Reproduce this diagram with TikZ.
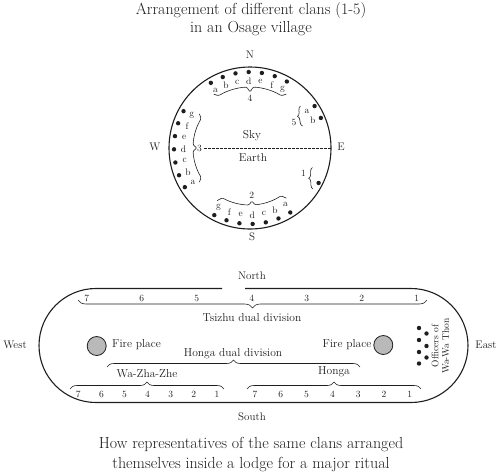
\documentclass[tikz,border=0pt]{standalone}
\usetikzlibrary{calc,decorations.pathreplacing}
\newcommand\cbr[5]{%
 \pgfmathsetmacro\cbma{(#1+#2)/2}%
 \pgfmathsetmacro\cbsa{#1+3}%
 \pgfmathsetmacro\cbmb{\cbma-3}%
 \pgfmathsetmacro\cbmc{\cbma+3}%
 \pgfmathsetmacro\cbeb{#2-3}%
 \pgfmathsetmacro\cbro{#3+#5}%
 \pgfmathsetmacro\cbri{#3-#4}%
 \draw[thinline, rounded corners=1.2pt] ($(C)+(#1:\cbro)$) -- ($(C)+(\cbsa:#3)$) arc[start angle=\cbsa, end angle=\cbmb, radius=#3] -- ($(C)+(\cbma:\cbri)$) -- ($(C)+(\cbmc:#3)$) arc[start angle=\cbmc, end angle=\cbeb, radius=#3] -- ($(C)+(#2:\cbro)$);}
\definecolor{ink}{HTML}{1E1E1E}
\tikzset{
 lbl/.style={inner sep=0pt, text=ink, font=\fontsize{11}{12}\selectfont},
 mid/.style={inner sep=0pt, text=ink, font=\fontsize{11.5}{13}\selectfont},
 ltr/.style={inner sep=0pt, text=ink, font=\fontsize{9.5}{10}\selectfont},
 num/.style={inner sep=0pt, text=ink, font=\fontsize{9.5}{10}\selectfont},
 big/.style={inner sep=0pt, text=ink, font=\fontsize{16}{18}\selectfont},
 dot/.style={circle, fill=ink, inner sep=0pt, minimum size=4.4pt},
 thinline/.style={draw=ink, line width=0.6pt},
 frame/.style={draw=ink, line width=1.1pt},
 brc/.style={decorate, decoration={brace, amplitude=#1}, draw=ink, line width=0.6pt},
 fire/.style={circle, draw=ink, fill=gray!55, line width=0.8pt, minimum size=19pt, inner sep=0pt},
}
\begin{document}
\begin{tikzpicture}[x=1pt,y=-1pt]
\useasboundingbox (0,0) rectangle (501,475);
% ---------- title
\node[big] (t1) at (251,11) {Arrangement of different clans (1-5)};
\node[big] (t2) at (251,29) {in an Osage village};
% ---------- village circle
\coordinate (C) at (250,148);
\node[circle, frame, minimum size=162pt, inner sep=0pt] (village) at (C) {};
\node[lbl] (N) at (250,55) {N};
\node[lbl] (S) at (252,237) {S};
\node[lbl] (W) at (155,147) {W};
\node[lbl] (E) at (341,147) {E};
\node[mid] (sky) at (252,136) {Sky};
\node[mid] (earth) at (253,158) {Earth};
\coordinate (dashL) at (204,148);
\draw[thinline, dash pattern=on 2.5pt off 1.5pt] (dashL) -- (village.east);
% north group (4)
\foreach \a [count=\k] in {-121,-111,...,-61} \node[dot] (n\k) at ($(C)+(\a:76)$) {};
\foreach \a/\l in {-121/a,-111/b,-101/c,-91/d,-81/e,-71/f,-61/g} \node[ltr] (nl\l) at ($(C)+(\a:67)$) {\l};
\cbr{-124}{-56}{61}{5}{4}
\node[num] (four) at ($(C)+(-90:50)$) {4};
% west group (3)
\foreach \a [count=\k] in {-151,-161,...,-211} \node[dot] (w\k) at ($(C)+(\a:76)$) {};
\foreach \a/\l in {-151/g,-161/f,-171/e,-181/d,-191/c,-201/b,-211/a} \node[ltr] (wl\l) at ($(C)+(\a:66.5)$) {\l};
\cbr{-214}{-146}{57}{4}{4}
\node[num] (three) at ($(C)+(-180:50.5)$) {3};
% south group (2)
\foreach \a [count=\k] in {-242,-252,...,-302} \node[dot] (s\k) at ($(C)+(\a:76)$) {};
\foreach \a/\l in {-242/g,-252/f,-262/e,-272/d,-282/c,-292/b,-302/a} \node[ltr] (sl\l) at ($(C)+(\a:67)$) {\l};
\cbr{-306}{-238}{57}{4}{5}
\node[num] (two) at ($(C)+(-272:47.5)$) {2};
% east group (5)
\node[dot] (e5a) at ($(C)+(-33:77)$) {};
\node[dot] (e5b) at ($(C)+(-23:77)$) {};
\node[ltr] (e5la) at ($(C)+(-33:68)$) {a};
\node[ltr] (e5lb) at ($(C)+(-23.5:68.5)$) {b};
\coordinate (b5lo) at (302.5,126);
\coordinate (b5hi) at (300.5,106);
\draw[brc=4pt] (b5lo) -- (b5hi);
\node[num] (five) at (294,122.5) {5};
% east group (1)
\node[dot] (e1) at ($(C)+(27:77)$) {};
\coordinate (b1lo) at (313,189);
\coordinate (b1hi) at (312.5,167.5);
\draw[brc=4pt] (b1lo) -- (b1hi);
\node[num] (one) at (303.5,173.5) {1};
% ---------- lodge
\coordinate (gapL) at (222,288.5);
\coordinate (gapR) at (245,288.5);
\draw[frame] (gapL) -- (96,288.5) arc[start angle=270, end angle=90, radius=57] -- (411,402.5) arc[start angle=90, end angle=-90, radius=57] -- (gapR);
\node[lbl] (north) at (252,276) {North};
\node[lbl] (south) at (252,417) {South};
\node[lbl] (west) at (15,345) {West};
\node[lbl] (east) at (486,345) {East};
% top row
\foreach \n [count=\k from 0] in {7,6,5,4,3,2,1} \node[num] (tr\n) at (86.7+55*\k,298) {\n};
\draw[brc=8pt] (427,300) -- (78,300);
\node[mid] (tsizhu) at (252,317.5) {Tsizhu dual division};
% fire places
\node[fire] (fireL) at (96.7,346) {};
\node[fire] (fireR) at (383.3,345) {};
\node[mid, anchor=west] (fpL) at (112,345) {Fire place};
\node[mid, anchor=east] (fpR) at (371.5,345) {Fire place};
% honga dual division
\node[mid] (hdd) at (233,354) {Honga dual division};
\draw[brc=7pt] (107,367) -- (360,367);
\node[mid] (wzz) at (147,374) {Wa-Zha-Zhe};
\node[mid] (honga) at (334,372) {Honga};
\draw[brc=7pt] (70,389) -- (224,389);
\draw[brc=7pt] (247,389) -- (421,389);
\foreach \n [count=\k from 0] in {7,6,5,4,3,2,1} \node[num] (bl\n) at (78.3+23.1*\k,394) {\n};
\foreach \n [count=\k from 0] in {7,6,5,4,3,2,1} \node[num] (br\n) at (255+25.8*\k,394) {\n};
% officers
\foreach \y [count=\k] in {328,340,352,363.5} \node[dot] (oa\k) at (419,\y) {};
\foreach \y [count=\k] in {333.5,346,357.5} \node[dot] (ob\k) at (426.5,\y) {};
\node[inner sep=0pt, text=ink, font=\fontsize{9.5}{10.5}\selectfont, rotate=90, align=center] (off) at (440.5,346) {Officers of\\Wa-Wa Thon};
% ---------- caption
\node[big] (c1) at (251,445) {How representatives of the same clans arranged};
\node[big] (c2) at (251,465) {themselves inside a lodge for a major ritual};
\end{tikzpicture}
\end{document}
